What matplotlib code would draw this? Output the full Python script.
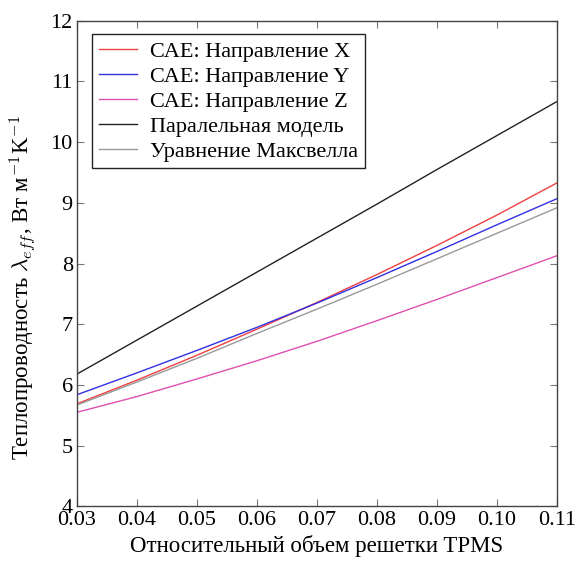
import matplotlib
matplotlib.use('Agg')
import matplotlib.pyplot as plt

plt.rcParams['font.family'] = ['Liberation Serif', 'DejaVu Serif']
plt.rcParams['mathtext.fontset'] = 'cm'

# relative volume of the lattice
vol = [0.03, 0.04, 0.05, 0.06, 0.07, 0.08, 0.09, 0.10, 0.11]

cae_x = [5.69, 6.08, 6.49, 6.92, 7.36, 7.82, 8.30, 8.80, 9.33]
cae_y = [5.84, 6.20, 6.57, 6.95, 7.35, 7.77, 8.20, 8.64, 9.07]
cae_z = [5.55, 5.81, 6.10, 6.40, 6.72, 7.06, 7.41, 7.77, 8.13]
parallel = [6.18, 6.74, 7.30, 7.86, 8.42, 8.98, 9.55, 10.11, 10.67]
maxwell = [5.67, 6.05, 6.44, 6.85, 7.25, 7.66, 8.08, 8.50, 8.92]

labels = ['САЕ: Направление X', 'САЕ: Направление Y', 'САЕ: Направление Z',
          'Паралельная модель', 'Уравнение Максвелла']

x_ticks = [0.03, 0.04, 0.05, 0.06, 0.07, 0.08, 0.09, 0.10, 0.11]
x_tick_labels = ['0.03', '0.04', '0.05', '0.06', '0.07', '0.08', '0.09', '0.10', '0.11']
y_ticks = [4, 5, 6, 7, 8, 9, 10, 11, 12]

fig = plt.figure(figsize=(5.77, 5.61), dpi=100)
ax = fig.add_axes([0.1334, 0.0973, 0.832, 0.8657])

ax.plot(vol, cae_x, color='#f04040', lw=1.0, label=labels[0])
ax.plot(vol, cae_y, color='#3030e0', lw=1.0, label=labels[1])
ax.plot(vol, cae_z, color='#e050b0', lw=1.0, label=labels[2])
ax.plot(vol, parallel, color='#222222', lw=1.0, label=labels[3])
ax.plot(vol, maxwell, color='#999999', lw=1.0, label=labels[4])

ax.set_xlim(0.03, 0.11)
ax.set_ylim(4, 12)
ax.set_xticks(x_ticks)
ax.set_xticklabels(x_tick_labels)
ax.set_yticks(y_ticks)
ax.tick_params(direction='in', length=5, width=0.8, color='#777777',
               top=True, right=True, labelsize=16, pad=3)
for s in ax.spines.values():
    s.set_color('#444444')
    s.set_linewidth(1.0)

ax.set_xlabel('Относительный объем решетки TPMS', fontsize=16.5, labelpad=4)
ax.set_ylabel(r'Теплопроводность $\lambda_{eff}$, Вт м$^{-1}$K$^{-1}$', fontsize=16.5)
ax.yaxis.set_label_coords(-0.08, 0.45)

leg = ax.legend(loc='upper left', fontsize=16, frameon=True, fancybox=False,
                edgecolor='#222222', framealpha=1, handlelength=1.7,
                borderpad=0.3, labelspacing=0.2, handletextpad=0.6,
                borderaxespad=0, bbox_to_anchor=(0.032, 0.972))
leg.get_frame().set_linewidth(1.0)

fig.savefig('out.png', dpi=100)
